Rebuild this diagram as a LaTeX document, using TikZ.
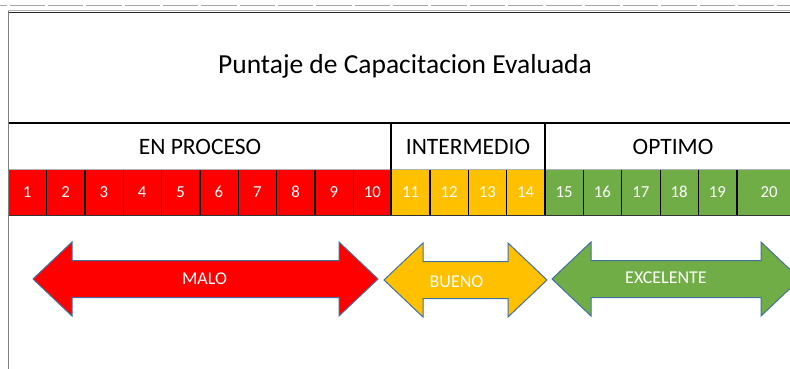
\documentclass[tikz,border=0pt]{standalone}
\usepackage{fontspec}
\setmainfont{Carlito}
\definecolor{rojo}{HTML}{FF0000}
\definecolor{ambar}{HTML}{FFC000}
\definecolor{verde}{HTML}{70AD47}
\definecolor{borde}{HTML}{41719C}

\newcommand{\flecha}[4]{%
	\filldraw[draw=borde,line width=1pt,fill=#4,line join=miter]
	(#1,#3) -- ++(39,-37) -- ++(0,18.5) -- ({#2-39},{#3-18.5}) -- ++(0,-18.5) -- (#2,#3)
	-- ({#2-39},{#3+37}) -- ++(0,-18.5) -- ({#1+39},{#3+18.5}) -- ++(0,18.5) -- cycle;
}

\begin{document}
\begin{tikzpicture}[
		x=1pt,y=-1pt,
		every node/.style={inner sep=0pt},
		celda/.style={rectangle,minimum width=38.35pt,minimum height=45.5pt,text=white,font=\fontsize{16.8}{18}\selectfont},
		encabezado/.style={anchor=base,font=\fontsize{23.5}{26}\selectfont},
		etiqueta/.style={anchor=base,text=white,font=\fontsize{18}{20}\selectfont}
		]
		\clip (0,0) rectangle (790,369);
		\fill[white] (0,0) rectangle (790,369);
		\draw[gray!70,line width=0.6pt] (0,5) -- (6.5,5);
		\foreach \k in {0,...,20}
			\draw[gray!70,line width=0.6pt] ({8+38.35*\k+1.5},5) -- ({8+38.35*(\k+1)-1.5},5);
		\draw[gray!60,line width=1pt] (8,11) -- (790,11);
		\draw[black!85,line width=1pt] (8,12.8) -- (790,12.8);
		\node[anchor=base,font=\fontsize{27.5}{30}\selectfont] (titulo) at (405,74) {Puntaje de Capacitacion Evaluada};
		\draw[line width=2pt] (8,123) -- (790,123);
		\node[encabezado] (proceso) at (200,154.3) {EN PROCESO};
		\node[encabezado] (intermedio) at (468,154.3) {INTERMEDIO};
		\node[encabezado] (optimo) at (673,154.3) {OPTIMO};
		\foreach \i in {1,...,10}
			\node[celda,fill=rojo] (n\i) at ({8+38.35*(\i-0.5)},192.25) {\i};
		\foreach \i in {11,...,14}
			\node[celda,fill=ambar] (n\i) at ({8+38.35*(\i-0.5)},192.25) {\i};
		\foreach \i in {15,...,19}
			\node[celda,fill=verde] (n\i) at ({8+38.35*(\i-0.5)},192.25) {\i};
		\node[celda,fill=verde,minimum width=65pt] (n20) at (769.15,192.25) {20};
		\foreach \i in {1,...,19}
			\draw[line width=1.3pt] (n\i.north east) -- (n\i.south east);
		\draw[gray!60,line width=0.8pt] (n1.north west) -- (n20.north east);
		\draw[black!80,line width=1pt] (n1.south west) -- (n20.south east);
		\draw[line width=2pt] (391,123) -- (391,215);
		\draw[line width=2pt] (545,123) -- (545,215);
		\draw[gray,line width=1pt] (8.5,11) -- (8.5,369);
		\flecha{33}{378}{279}{rojo}
		\flecha{384}{547}{280}{ambar}
		\flecha{552}{800}{279}{verde}
		\node[etiqueta] (malo) at (204.5,284.3) {MALO};
		\node[etiqueta] (bueno) at (456.5,287) {BUENO};
		\node[etiqueta] (excelente) at (666,283) {EXCELENTE};
		\end{tikzpicture}
\end{document}
